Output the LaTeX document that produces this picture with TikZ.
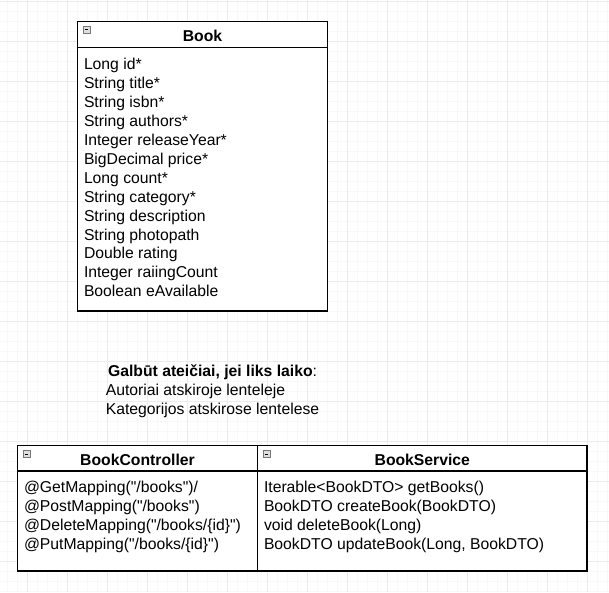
\documentclass[tikz,border=0pt]{standalone}
\usepackage{fontspec}
\setmainfont{Liberation Sans}
\begin{document}
\tikzset{every picture/.style={line width=0.75pt}}
\tikzset{
  gridminor/.style={draw={rgb, 255:red, 248; green, 248; blue, 248 }, line width=0.75pt},
  gridmajor/.style={draw={rgb, 255:red, 235; green, 235; blue, 235 }, line width=0.75pt},
  classbox/.style={line width=1pt},
  collapsebox/.style={draw={rgb, 255:red, 120; green, 120; blue, 120 }, fill={rgb, 255:red, 222; green, 222; blue, 222 }, line width=0.6pt},
  umltext/.style={anchor=north west, inner sep=0.75pt, align=left, font=\fontsize{11.8pt}{14.2pt}\selectfont},
  umltitle/.style={anchor=base, inner sep=0.75pt, font=\fontsize{11.8pt}{14.2pt}\selectfont\bfseries}
}

\begin{tikzpicture}[x=0.75pt,y=0.75pt,yscale=-1,xscale=1]
        \path[use as bounding box] (0,0) rectangle (609,592);

        %Grid background
        \foreach \gx in {7.3,17.3,...,607.3} \draw [gridminor] (\gx,0) -- (\gx,592);
        \foreach \gy in {1.5,11.5,...,591.5} \draw [gridminor] (0,\gy) -- (609,\gy);
        \foreach \gx in {27.3,67.3,...,587.3} \draw [gridmajor] (\gx,0) -- (\gx,592);
        \foreach \gy in {1.5,41.5,...,561.5} \draw [gridmajor] (0,\gy) -- (609,\gy);

        %Shape: Class Book
        \draw [classbox, fill=white] (77.5,21.7) -- (327.5,21.7) -- (327.5,311) -- (77.5,311) -- cycle ;
        \draw [classbox] (77.5,47.7) -- (327.5,47.7) ;
        \draw [collapsebox] (83,26) rectangle (90,33) ;
        \draw (84.6,29.5) -- (88.4,29.5) ;

        %Shape: Class BookController
        \draw [classbox, fill=white] (17.3,445.7) -- (257.7,445.7) -- (257.7,571) -- (17.3,571) -- cycle ;
        \draw [classbox] (17.3,471) -- (257.7,471) ;
        \draw [collapsebox] (23,450.5) rectangle (30,457.5) ;
        \draw (24.6,454) -- (28.4,454) ;

        %Shape: Class BookService
        \draw [classbox, fill=white] (257.7,445.7) -- (587,445.7) -- (587,571) -- (257.7,571) -- cycle ;
        \draw [classbox] (257.7,471) -- (587,471) ;
        \draw [collapsebox] (263,450.5) rectangle (270,457.5) ;
        \draw (264.6,454) -- (268.4,454) ;

        \draw (202.5,41) node [umltitle] (bookTitle) {Book};
        \draw (82.5,56.7) node [umltext] (bookFields) {Long id*\\String title*\\String isbn*\\String authors*\\Integer releaseYear*\\BigDecimal price*\\Long count*\\String category*\\String description\\String photopath\\Double rating\\Integer raiingCount\\Boolean eAvailable};

        \draw (104.3,363) node [umltext] (futureNote) {\hspace*{1.7pt}\textbf{Galbūt ateičiai, jei liks laiko}:\\Autoriai atskiroje lenteleje\\Kategorijos atskirose lentelese};

        \draw (137.5,465) node [umltitle] (controllerTitle) {BookController};
        \draw (22.5,480) node [umltext] (controllerMethods) {@GetMapping(\textquotedbl/books\textquotedbl)/\\@PostMapping(\textquotedbl/books\textquotedbl)\\@DeleteMapping(\textquotedbl/books/\{id\}\textquotedbl)\\@PutMapping(\textquotedbl/books/\{id\}\textquotedbl)};

        \draw (422.3,465) node [umltitle] (serviceTitle) {BookService};
        \draw (262.5,480) node [umltext] (serviceMethods) {Iterable<BookDTO> getBooks()\\BookDTO createBook(BookDTO)\\void deleteBook(Long)\\BookDTO updateBook(Long, BookDTO)};

\end{tikzpicture}
\end{document}
